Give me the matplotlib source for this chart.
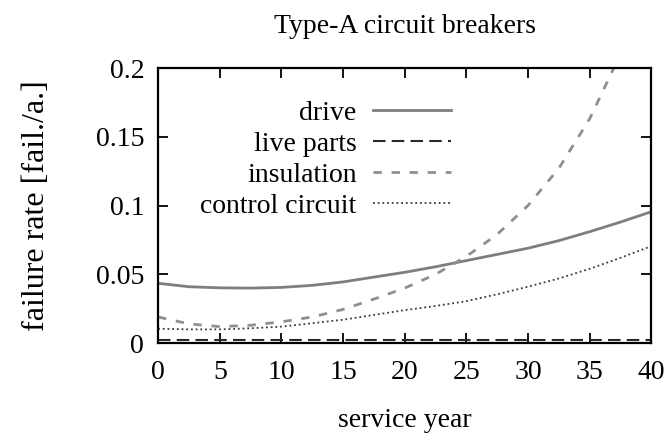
import matplotlib
matplotlib.use("Agg")
import matplotlib.pyplot as plt

plt.rcParams['font.family'] = ['Liberation Serif', 'DejaVu Serif']

# service year samples and failure rates
years = [0, 2.5, 5, 7.5, 10, 12.5, 15, 17.5, 20, 22.5, 25, 27.5, 30, 32.5, 35, 37.5, 40]
drive = [0.0435, 0.041, 0.0402, 0.040, 0.0405, 0.042, 0.0445, 0.048, 0.0515,
         0.0555, 0.060, 0.0645, 0.069, 0.0745, 0.081, 0.088, 0.0955]
live_parts = [0.002] * len(years)
insulation = [0.019, 0.014, 0.012, 0.013, 0.0155, 0.019, 0.0245, 0.032, 0.040,
              0.050, 0.063, 0.079, 0.100, 0.127, 0.163, 0.21, 0.27]
control = [0.0105, 0.010, 0.010, 0.0108, 0.012, 0.0145, 0.017, 0.0205, 0.024,
           0.027, 0.0305, 0.0355, 0.041, 0.047, 0.054, 0.062, 0.0705]

xticks = [0, 5, 10, 15, 20, 25, 30, 35, 40]
yticks = [0, 0.05, 0.1, 0.15, 0.2]
ylabels = ['0', '0.05', '0.1', '0.15', '0.2']

fig = plt.figure(figsize=(6.7, 4.36), dpi=100)
ax = fig.add_axes([0.236, 0.213, 0.736, 0.631])

ax.plot(years, drive, color='#7e7e7e', lw=2.0, label='drive')
ax.plot(years, live_parts, color='#2a2a2a', lw=1.5, dashes=(6, 3), label='live parts')
ax.plot(years, insulation, color='#8f8f8f', lw=2.0, dashes=(3, 3.5), label='insulation')
ax.plot(years, control, color='#3a3a3a', lw=1.3, dashes=(1, 1.6), label='control circuit')

ax.set_xlim(0, 40)
ax.set_ylim(0, 0.2)
ax.set_xticks(xticks)
ax.set_xticklabels([str(t) for t in xticks])
ax.set_yticks(yticks)
ax.set_yticklabels(ylabels)
ax.tick_params(direction='in', length=7.5, width=1.3, top=True, right=True,
               labelsize=20)
ax.tick_params(axis='x', pad=12)
ax.tick_params(axis='y', pad=10)
for s in ax.spines.values():
    s.set_linewidth(1.6)

ax.set_title('Type-A circuit breakers', fontsize=20, pad=25)
ax.set_xlabel('service year', fontsize=20, labelpad=17)
ax.set_ylabel('failure rate [fail./a.]', fontsize=23, labelpad=32)

ax.legend(loc='upper right', bbox_to_anchor=(0.594, 0.882), frameon=False,
          markerfirst=False, fontsize=20, handlelength=2.8, handletextpad=0.6,
          labelspacing=0.2, borderaxespad=0, borderpad=0)

fig.savefig('out.png', dpi=100)
